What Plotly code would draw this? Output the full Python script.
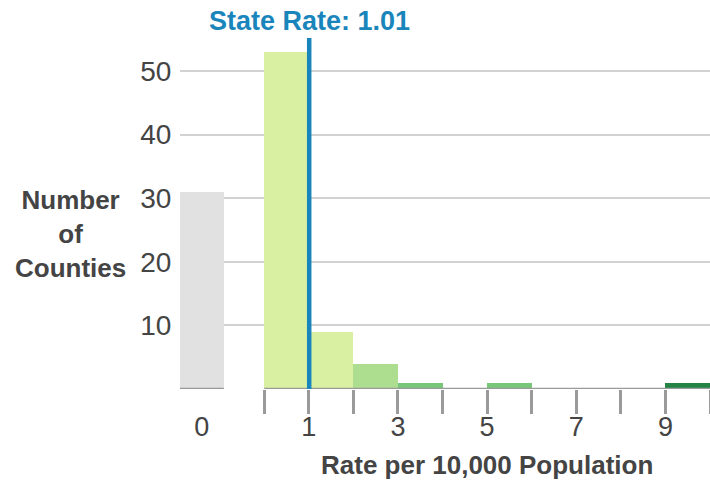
import plotly.graph_objects as go

# Histogram of county rates (bins of width 1 starting at these values)
bin_starts = [0, 1, 2, 3, 4, 5, 6, 7, 8, 9]
county_counts = [53, 9, 4, 1, 0, 1, 0, 0, 0, 1]
bin_colors = ['#d9f0a3', '#d9f0a3', '#addd8e', '#78c679', '#78c679',
              '#78c679', '#41ab5d', '#41ab5d', '#238443', '#238443']

# Counties with a rate of exactly zero, drawn as a separate grey bar
zero_label = '0'
zero_count = 31
zero_pos = -1.4

state_rate = 1.01
odd_ticks = [1, 3, 5, 7, 9]
y_ticks = [10, 20, 30, 40, 50]

FONT = 'Liberation Sans, Arial, sans-serif'
TEXT = '#444444'
AXIS = '#9a9a9a'
BLUE = '#1a85bb'

fig = go.Figure()

fig.add_trace(go.Bar(
    x=[s + 0.5 for s in bin_starts],
    y=county_counts,
    width=1,
    marker=dict(color=bin_colors, line=dict(width=0)),
    hoverinfo='skip',
))

fig.add_trace(go.Bar(
    x=[zero_pos],
    y=[zero_count],
    width=0.99,
    marker=dict(color='#e1e1e1', line=dict(width=0)),
    hoverinfo='skip',
))

# dummy trace on the label axis so it gets drawn
fig.add_trace(go.Scatter(x=[zero_pos], y=[0], xaxis='x2', mode='markers',
                         marker=dict(opacity=0), hoverinfo='skip'))

x_min = -1.888
x_max = 10

# baseline under the bars (split in two, like the original)
fig.add_shape(type='line', x0=bin_starts[0], x1=bin_starts[-1] + 1, y0=0, y1=0,
              line=dict(color=AXIS, width=2.5), layer='above')
fig.add_shape(type='line', x0=zero_pos - 0.495, x1=zero_pos + 0.495, y0=0, y1=0,
              line=dict(color=AXIS, width=2.5), layer='above')

# state rate marker
fig.add_shape(type='line', x0=state_rate, x1=state_rate, y0=0, y1=1,
              yref='paper', line=dict(color=BLUE, width=4.5), layer='above')
fig.add_annotation(x=state_rate, y=1, yref='paper', yanchor='bottom',
                   text=f'<b>State Rate: {state_rate:.2f}</b>', showarrow=False,
                   font=dict(family=FONT, size=27, color=BLUE), yshift=0)

fig.add_annotation(xref='paper', yref='paper', x=-0.2075, y=0.443,
                   xanchor='center', yanchor='middle',
                   text='<b>Number<br>of<br>Counties</b>', showarrow=False,
                   font=dict(family=FONT, size=26, color=TEXT))

fig.add_annotation(x=5.0, y=0, yref='paper', yanchor='top', yshift=-59,
                   text='<b>Rate per 10,000 Population</b>', showarrow=False,
                   font=dict(family=FONT, size=26, color=TEXT))

fig.update_layout(
    width=710, height=480,
    margin=dict(l=180, r=0, t=38, b=91, autoexpand=False),
    plot_bgcolor='white', paper_bgcolor='white',
    showlegend=False, bargap=0, barmode='overlay',
    font=dict(family=FONT, color=TEXT),
    xaxis=dict(
        range=[x_min, x_max], automargin=False,
        tickvals=list(range(0, 11)),
        showticklabels=False,
        ticks='outside', ticklen=24, tickwidth=2.5, tickcolor=AXIS,
        showgrid=False, zeroline=False, showline=False,
    ),
    xaxis2=dict(
        overlaying='x', matches='x', side='bottom', automargin=False,
        tickvals=[zero_pos] + odd_ticks,
        ticktext=[zero_label] + [str(t) for t in odd_ticks],
        ticks='outside', ticklen=14, tickcolor='rgba(0,0,0,0)',
        tickfont=dict(family=FONT, size=27, color=TEXT),
        showgrid=False, zeroline=False, showline=False,
    ),
    yaxis=dict(
        range=[0, 55.2], automargin=False,
        tickvals=y_ticks,
        tickfont=dict(family=FONT, size=28, color=TEXT),
        ticks='outside', ticklen=2, tickcolor='rgba(0,0,0,0)',
        showgrid=True, gridcolor='#d2d2d2', gridwidth=1.5,
        zeroline=False, showline=False,
    ),
)

# page body has a default 8px margin; remove it so the chart fills the window
fig.write_html('out.html', config={'displayModeBar': False},
               post_script="document.body.style.margin='0';")
